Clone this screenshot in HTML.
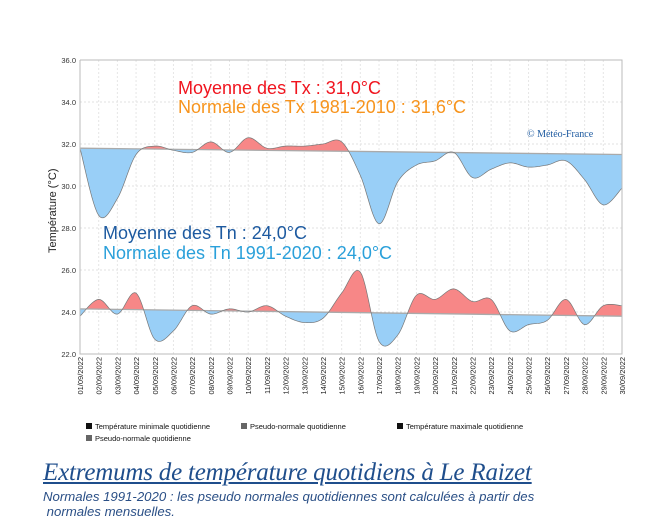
<!DOCTYPE html>
<html><head><meta charset="utf-8"><style>
body{margin:0;background:#fff;width:671px;height:526px;overflow:hidden;position:relative;font-family:"Liberation Sans",sans-serif}
svg{position:absolute;left:0;top:0}
.t{position:absolute;white-space:nowrap}
</style></head><body>
<svg id="chart" width="671" height="460"></svg>
<div class="t" style="left:43px;top:459px;font-family:'Liberation Serif',serif;font-style:italic;font-size:25px;color:#1f4e8c;text-decoration:underline;letter-spacing:-0.2px">Extremums de température quotidiens à Le Raizet</div>
<div class="t" style="left:43px;top:489px;font-style:italic;font-size:13.2px;color:#2a4f86;line-height:15px">Normales 1991-2020 : les pseudo normales quotidiennes sont calculées à partir des<br>&nbsp;normales mensuelles.</div>
<script>
const days=["01","02","03","04","05","06","07","08","09","10","11","12","13","14","15","16","17","18","19","20","21","22","23","24","25","26","27","28","29","30"];
const txValues=[31.8,28.6,29.4,31.5,31.9,31.7,31.6,32.1,31.6,32.3,31.8,31.9,31.9,32.0,32.1,30.5,28.2,30.2,31.0,31.2,31.6,30.4,30.8,31.1,30.9,31.0,31.2,30.3,29.1,29.9];
const txNormal=[31.8,31.5];
const tnValues=[23.8,24.6,23.9,24.9,22.7,23.1,24.3,23.9,24.15,24.0,24.3,23.8,23.5,23.7,24.9,25.9,22.6,22.9,24.8,24.6,25.1,24.5,24.6,23.1,23.4,23.6,24.6,23.4,24.3,24.3];
const tnNormal=[24.15,23.8];
const yTicks=[22,24,26,28,30,32,34,36];
const NS="http://www.w3.org/2000/svg";
const svg=document.getElementById('chart');
const X0=80,X1=622,Y0=354,Y1=60,YMIN=22,YMAX=36;
const xs=i=>X0+(X1-X0)*i/(days.length-1);
const ys=v=>Y0-(Y0-Y1)*(v-YMIN)/(YMAX-YMIN);
function el(t,a,p){const e=document.createElementNS(NS,t);for(const k in a)e.setAttribute(k,a[k]);(p||svg).appendChild(e);return e;}
yTicks.forEach(v=>{
 const g=el('line',{x1:X0,x2:X1,y1:ys(v),y2:ys(v),stroke:'#e2e2e2','stroke-dasharray':'2,2'});
 
 
 const t=el('text',{x:X0-4,y:ys(v)+3,'text-anchor':'end','font-size':'7.5','fill':'#333'});
 t.textContent=v.toFixed(1);
 
 
});
days.forEach((d,i)=>{
 const g=el('line',{x1:xs(i),x2:xs(i),y1:Y1,y2:Y0,stroke:'#e6e6e6','stroke-dasharray':'2,2'});
 
 
 const t=el('text',{transform:`translate(${xs(i)+3},${Y0+3}) rotate(-90)`,'text-anchor':'end','font-size':'7.5',fill:'#222'});
 t.textContent=d+'/09/2022';
 
 
});
function curve(vals){
 const p=vals.map((v,i)=>[xs(i),ys(v)]);const out=[];
 for(let i=0;i<p.length-1;i++){
  const a=p[Math.max(i-1,0)],b=p[i],c=p[i+1],d=p[Math.min(i+2,p.length-1)];
  for(let s=0;s<12;s++){const t=s/12,t2=t*t,t3=t2*t;
   const f=k=>0.5*((2*b[k])+(-a[k]+c[k])*t+(2*a[k]-5*b[k]+4*c[k]-d[k])*t2+(-a[k]+3*b[k]-3*c[k]+d[k])*t3);
   out.push([f(0),f(1)]);}
 }
 out.push(p[p.length-1]);return out;
}
let cid=0;
function series(vals,norm,name){
 const pts=curve(vals);
 const nA=[X0,ys(norm[0])],nB=[X1,ys(norm[1])];
 const area='M'+pts.map(p=>p.join(',')).join('L')+`L${nB}L${nA}Z`;
 const defs=el('defs',{});
 const ca=el('clipPath',{id:'ca'+cid},defs);el('polygon',{points:`${X0},0 ${X1},0 ${nB} ${nA}`},ca);
 const cb=el('clipPath',{id:'cb'+cid},defs);el('polygon',{points:`${nA} ${nB} ${X1},460 ${X0},460`},cb);
 const r=el('path',{d:area,fill:'#f78787','clip-path':`url(#ca${cid})`});
 
 
 const b=el('path',{d:area,fill:'#99cff7','clip-path':`url(#cb${cid})`});
 
 
 const n=el('line',{x1:nA[0],y1:nA[1],x2:nB[0],y2:nB[1],stroke:'#aaa','stroke-width':1.3});
 
 
 const l=el('path',{d:'M'+pts.map(p=>p.join(',')).join('L'),fill:'none',stroke:'#777','stroke-width':0.7});
 
 
 cid++;
}
series(txValues,txNormal,'tx');
series(tnValues,tnNormal,'tn');
const ax=el('path',{d:`M${X0},${Y1}V${Y0}H${X1}V${Y1}H${X0}`,fill:'none',stroke:'#bbb'});


function txt(x,y,s,size,col,name,extra){const t=el('text',Object.assign({x:x,y:y,'font-size':size,fill:col},extra||{}));t.textContent=s;
 
 return t;}
txt(178,94,'Moyenne des Tx : 31,0°C',18,'#f0141e','tx-mean-label');
txt(178,113,'Normale des Tx 1981-2010 : 31,6°C',18,'#f7941d','tx-normal-label');
txt(103,239,'Moyenne des Tn : 24,0°C',18,'#1d5aa0','tn-mean-label');
txt(103,259,'Normale des Tn 1991-2020 : 24,0°C',18,'#2aa0da','tn-normal-label');
txt(527,137,'© Météo-France',10,'#1d5aa0','copyright-label',{'font-family':'Liberation Serif, serif'});
txt(0,0,'Température (°C)',11,'#222','y-axis-title',{transform:'translate(56,253) rotate(-90)'});
const leg=[[86,429,'Température minimale quotidienne','#111'],[241,429,'Pseudo-normale quotidienne','#666'],[397,429,'Température maximale quotidienne','#111'],[86,441,'Pseudo-normale quotidienne','#666']];
leg.forEach(e=>{
 const r=el('rect',{x:e[0],y:e[1]-6,width:6,height:6,fill:e[3]});
 
 
 txt(e[0]+9,e[1],e[2],7.5,'#111','legend-entry');
});
</script>
</body></html>
